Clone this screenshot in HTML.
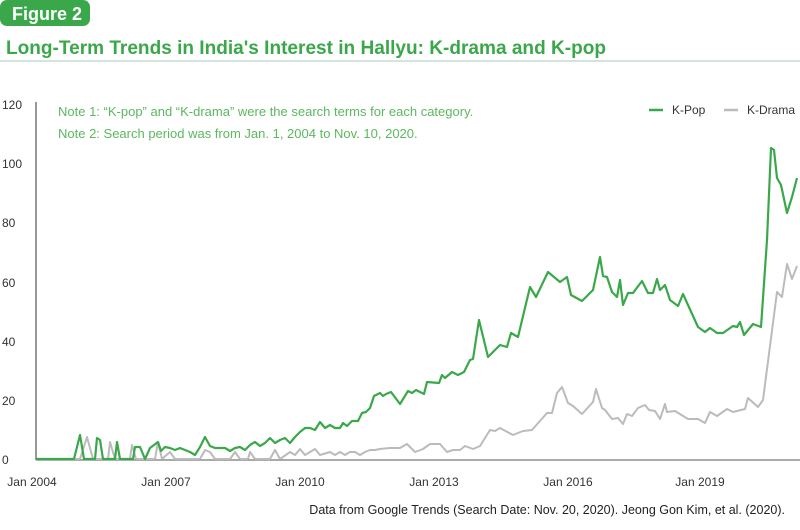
<!DOCTYPE html>
<html><head><meta charset="utf-8"><style>
body{margin:0;width:800px;height:525px;background:#fff;overflow:hidden;font-family:"Liberation Sans",sans-serif}
</style></head><body>
<svg width="800" height="525" xmlns="http://www.w3.org/2000/svg" font-family="Liberation Sans, sans-serif">
<rect x="0" y="0" width="90" height="26" rx="7" fill="#3aa84a"/>
<text x="12" y="20" font-size="18" font-weight="bold" fill="#fff">Figure 2</text>
<text x="6" y="54" font-size="19.5" font-weight="bold" fill="#3aa84a" textLength="600" lengthAdjust="spacingAndGlyphs">Long-Term Trends in India's Interest in Hallyu: K-drama and K-pop</text>
<line x1="0" y1="61" x2="800" y2="61" stroke="#a9c9b8" stroke-width="1"/>
<g font-size="12" fill="#333">
<text x="2" y="109">120</text><text x="2" y="168">100</text><text x="2" y="227">80</text><text x="2" y="287">60</text><text x="2" y="346">40</text><text x="2" y="405">20</text><text x="2" y="464">0</text>
<text x="32" y="486" text-anchor="middle">Jan 2004</text><text x="166" y="486" text-anchor="middle">Jan 2007</text><text x="300" y="486" text-anchor="middle">Jan 2010</text><text x="434" y="486" text-anchor="middle">Jan 2013</text><text x="568" y="486" text-anchor="middle">Jan 2016</text><text x="700" y="486" text-anchor="middle">Jan 2019</text>
</g>
<line x1="36" y1="102" x2="36" y2="460" stroke="#333" stroke-width="1"/>
<line x1="36" y1="460" x2="800" y2="460" stroke="#555" stroke-width="1"/>
<g font-size="13" fill="#5bb85f">
<text x="58" y="116">Note 1: “K-pop” and “K-drama” were the search terms for each category.</text>
<text x="58" y="138">Note 2: Search period was from Jan. 1, 2004 to Nov. 10, 2020.</text>
</g>
<line x1="649" y1="110" x2="663" y2="110" stroke="#3aa84a" stroke-width="2.5"/>
<text x="672" y="114" font-size="12" fill="#333">K-Pop</text>
<line x1="724" y1="110" x2="738" y2="110" stroke="#bbb" stroke-width="2.5"/>
<text x="747" y="114" font-size="12" fill="#333">K-Drama</text>
<polyline fill="none" stroke="#bbb" stroke-width="2" stroke-linejoin="round" points="36,459 80,459 87,437 93,459 108,459 110,442 115,459 130,459 132,445 136,459 155,459 158,442 162,459 170,452 175,459 200,459 205,450 210,452 215,459 230,459 235,452 240,459 248,459 250,452 255,459 270,459 275,450 280,459 290,452 295,455 300,449 305,455 310,452 315,449 320,455 330,452 335,455 340,452 345,455 350,452 355,452 360,455 365,452 370,450 375,450 380,449 390,448 400,448 407,444 415,452 423,449 430,444 440,444 447,452 453,450 460,450 465,446 473,449 480,446 490,430 495,431 500,428 513,435 523,431 532,430 547,413 552,413 557,393 562,387 568,403 573,406 582,414 593,402 596,389 602,408 605,410 612,419 618,418 623,424 627,414 632,416 638,408 645,405 649,410 655,411 660,419 665,404 667,412 675,411 688,419 698,419 705,423 710,412 717,416 727,409 733,412 745,409 748,398 758,407 763,400 777,292 782,297 787,264 792,279 797,266"/>
<polyline fill="none" stroke="#3aa84a" stroke-width="2.2" stroke-linejoin="round" points="36,459 74,459 80,435 84,459 95,459 97,438 100,440 103,459 115,459 117,442 120,459 133,459 135,447 140,447 145,459 150,448 154,445 158,442 161,451 165,447 170,448 175,450 180,448 185,450 190,452 195,455 200,447 205,437 210,446 215,448 220,448 225,448 230,451 235,448 240,447 245,450 250,445 255,442 260,446 265,443 270,438 275,443 280,440 285,438 290,443 295,437 300,432 305,428 310,428 315,430 320,422 325,428 330,425 335,428 340,428 343,423 347,426 352,421 358,421 362,413 366,412 370,408 374,396 380,393 383,396 386,394 391,392 400,404 408,391 412,393 416,390 424,394 427,382 439,383 442,375 445,378 452,372 458,375 464,372 470,360 473,359 479,320 488,357 500,345 507,347 511,333 518,337 530,287 536,297 548,272 560,282 567,277 571,295 582,301 593,290 600,257 603,276 607,277 612,292 617,297 620,280 623,305 628,293 633,293 642,281 648,293 653,293 657,279 660,290 665,285 670,300 678,306 683,294 698,327 705,332 710,328 717,333 723,333 733,326 737,327 740,322 744,335 753,324 761,327 767,240 771,148 774,150 777,178 781,185 787,213 792,197 797,178"/>
<text x="785" y="514" font-size="12.5" fill="#222" text-anchor="end">Data from Google Trends (Search Date: Nov. 20, 2020). Jeong Gon Kim, et al. (2020).</text>
</svg>
</body></html>
